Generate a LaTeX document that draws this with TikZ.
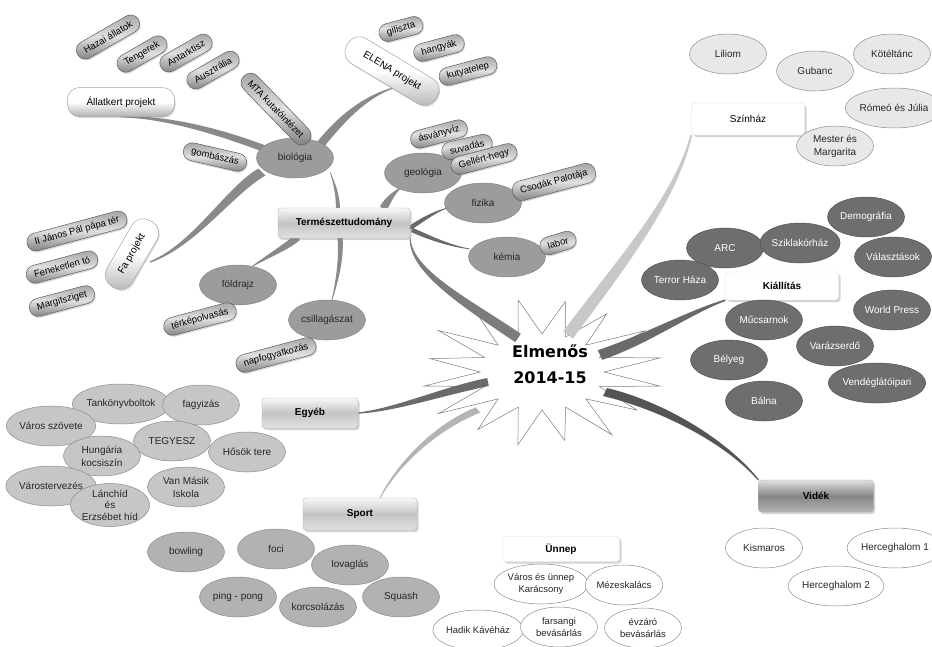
\documentclass[tikz,border=0pt]{standalone}
\usepackage{fontspec}
\setmainfont{Liberation Sans}
\newfontfamily\titlefont{DejaVu Sans}
\usetikzlibrary{shapes.geometric,shadows,calc,backgrounds}
\definecolor{lvtwoc}{HTML}{9C9C9C}
\definecolor{kiallc}{HTML}{6E6E6E}
\definecolor{egyc}{HTML}{C6C6C6}
\definecolor{sportc}{HTML}{B2B2B2}
\definecolor{szinc}{HTML}{E8E8E8}
\definecolor{edgec}{HTML}{8C8C8C}
\definecolor{ribmid}{HTML}{8A8A8A}
\definecolor{ribtt}{HTML}{7C7C7C}
\definecolor{ribdark}{HTML}{6A6A6A}
\definecolor{ribdarker}{HTML}{555555}
\definecolor{riblight}{HTML}{C8C8C8}
\definecolor{ribsport}{HTML}{B4B4B4}
\definecolor{pilltop}{HTML}{A0A0A0}
\definecolor{pillmid}{HTML}{E0E0E0}
\definecolor{pillbot}{HTML}{787878}
\definecolor{pilledge}{HTML}{5E5E5E}
\definecolor{lpillbot}{HTML}{B0B0B0}
\definecolor{boxtop}{HTML}{F8F8F8}
\definecolor{boxmid}{HTML}{C4C4C4}
\definecolor{boxbot}{HTML}{E2E2E2}
\definecolor{vtop}{HTML}{E0E0E0}
\definecolor{vmid}{HTML}{858585}
\definecolor{vbot}{HTML}{B4B4B4}
\definecolor{starline}{HTML}{7A7A7A}
\newcommand\mmribbon[6]{%
  \fill[#1] ($(#2)+(#6)$) .. controls ($(#3)+(#6)$) and ($(#4)+0.4*(#6)$) .. ($(#5)+0.15*(#6)$)
    -- ($(#5)-0.15*(#6)$) .. controls ($(#4)-0.4*(#6)$) and ($(#3)-(#6)$) .. ($(#2)-(#6)$) -- cycle;}
\begin{document}
\begin{tikzpicture}[x=1pt,y=-1pt,
  every node/.style={font=\fontsize{10}{12}\selectfont, align=center, text=black!85},
  el/.style={ellipse, minimum width=77pt, minimum height=40pt, inner sep=0pt, line width=0.5pt},
  lvtwo/.style={el, fill=lvtwoc, draw=lvtwoc!85!black},
  kel/.style={el, fill=kiallc, draw=kiallc!75!black, text=white},
  eel/.style={el, fill=egyc, draw=edgec},
  sel/.style={el, fill=sportc, draw=edgec},
  lel/.style={el, fill=szinc, draw=edgec},
  wel/.style={el, fill=white, draw=edgec},
  pill/.style={rectangle, rounded corners=9pt, minimum height=18pt, inner xsep=8pt, inner ysep=0pt,
    draw=pilledge, line width=0.5pt, top color=pilltop, bottom color=pillbot, middle color=pillmid,
    font=\fontsize{9.5}{11}\selectfont, text=black,
    drop shadow={opacity=0.3, shadow xshift=1pt, shadow yshift=-1.5pt}},
  lpill/.style={pill, rounded corners=13pt, minimum height=29pt, draw=gray!70,
    top color=white, bottom color=lpillbot, middle color=white, font=\fontsize{10}{12}\selectfont},
  mmbox/.style={rectangle, rounded corners=3pt, draw=gray!60, line width=0.4pt,
    top color=boxtop, bottom color=boxbot, middle color=boxmid, text=black,
    font=\bfseries\fontsize{10}{12}\selectfont,
    drop shadow={opacity=0.35, shadow xshift=1.5pt, shadow yshift=-2pt}},
  wbox/.style={rectangle, rounded corners=3pt, fill=white, draw=gray!25, line width=0.4pt, text=black,
    drop shadow={opacity=0.35, shadow xshift=2pt, shadow yshift=-2pt}}
]
\useasboundingbox (0,0) rectangle (932,646);

% ---- central title
\node[font=\titlefont\bfseries\fontsize{16}{26}\selectfont, text=black] (title) at (550,364) {Elmenős\\2014-15};

% ---- Természettudomány
\node[mmbox, minimum width=132pt, minimum height=30pt] (tt) at (344,223) {Természettudomány};
\node[pill, rotate=-13] (gomba) at (215,157) {gombászás};
\node[lvtwo] (bio) at (295,158) {biológia};
\node[lvtwo] (geo) at (423,173) {geológia};
\node[lvtwo] (fiz) at (483,203) {fizika};
\node[lvtwo] (kem) at (507,257) {kémia};
\node[lvtwo] (fold) at (238,285) {földrajz};
\node[lvtwo] (csill) at (327,320) {csillagászat};

\node[pill, rotate=30] (hazai) at (108,37) {Hazai állatok};
\node[pill, rotate=30] (teng) at (142,54) {Tengerek};
\node[pill, rotate=30] (ant) at (186,53) {Antarktisz};
\node[pill, rotate=30] (ausz) at (213,70) {Ausztrália};
\node[lpill, minimum width=107pt, rounded corners=12pt] (allat) at (121,102) {Állatkert projekt};
\node[pill, rotate=-46, minimum height=19pt] (mta) at (276,109) {MTA kutatóintézet};

\node[pill, rotate=15] (gil) at (401,29) {giliszta};
\node[pill, rotate=15] (hang) at (439,48) {hangyák};
\node[pill, rotate=15] (kutya) at (468,71) {kutyatelep};
\node[lpill, rotate=-31, minimum width=104pt] (elena) at (392,71) {ELENA projekt};

\node[pill, rotate=15] (asv) at (439,134) {ásványvíz};
\node[pill, rotate=13] (suv) at (467,147) {suvadás};
\node[pill, rotate=15] (gell) at (484,159) {Gellért-hegy};
\node[pill, rotate=15, minimum height=20pt] (csod) at (554,182) {Csodák Palotája};
\node[pill, rotate=17] (labor) at (558,243) {labor};

\node[pill, rotate=15] (jp) at (77,231) {II János Pál pápa tér};
\node[pill, rotate=15] (fen) at (62,267) {Feneketlen tó};
\node[pill, rotate=15] (marg) at (62,301) {Margitsziget};
\node[lpill, rotate=60, minimum width=76pt] (fa) at (132,254) {Fa projekt};
\node[pill, rotate=15] (terk) at (200,319) {térképolvasás};
\node[pill, rotate=15] (napf) at (276,355) {napfogyatkozás};

% ---- Színház
\node[wbox, minimum width=113pt, minimum height=32pt] (szin) at (748,119) {Színház};
\node[lel] (lil) at (728,54) {Liliom};
\node[lel] (gub) at (815,71) {Gubanc};
\node[lel] (kot) at (892,54) {Kötéltánc};
\node[lel] (rom) at (894,108) {Rómeó és Júlia};
\node[lel, font=\fontsize{10}{13}\selectfont] (mest) at (835,146) {Mester és\\Margarita};

% ---- Kiállítás
\node[kel] (demo) at (866,217) {Demográfia};
\node[kel] (arc) at (725,248) {ARC};
\node[kel] (szik) at (800,243) {Sziklakórház};
\node[kel] (val) at (893,257) {Választások};
\node[kel] (terror) at (680,280) {Terror Háza};
\node[wbox, minimum width=113pt, minimum height=28pt, font=\bfseries\fontsize{10}{12}\selectfont] (kiall) at (782,286) {Kiállítás};
\node[kel] (world) at (892,310) {World Press};
\node[kel] (muc) at (764,320) {Műcsarnok};
\node[kel] (var) at (835,346) {Varázserdő};
\node[kel] (bely) at (729,360) {Bélyeg};
\node[kel] (vend) at (877,383) {Vendéglátóipari};
\node[kel] (baln) at (764,401) {Bálna};

% ---- Egyéb
\node[mmbox, minimum width=96pt, minimum height=30pt] (egyeb) at (310,413) {Egyéb};
\node[eel] (tank) at (121,404) {Tankönyvboltok};
\node[eel] (fagy) at (201,405) {fagyizás};
\node[eel] (varsz) at (51,426) {Város szövete};
\node[eel] (tegy) at (172,441) {TEGYESZ};
\node[eel, font=\fontsize{10}{13}\selectfont] (hung) at (102,456) {Hungária\\kocsiszín};
\node[eel] (hos) at (247,452) {Hősök tere};
\node[eel] (vterv) at (51,486) {Várostervezés};
\node[eel, font=\fontsize{10}{13}\selectfont] (vanm) at (186,487) {Van Másik\\Iskola};
\node[eel, font=\fontsize{10}{11.5}\selectfont, minimum height=42pt] (lanc) at (110,505) {Lánchíd\\és\\Erzsébet híd};

% ---- Sport
\node[mmbox, minimum width=114pt, minimum height=32pt] (sport) at (360,514) {Sport};
\node[sel] (bowl) at (186,552) {bowling};
\node[sel] (foci) at (276,549) {foci};
\node[sel] (lov) at (350,565) {lovaglás};
\node[sel] (ping) at (238,597) {ping - pong};
\node[sel] (korcs) at (318,607) {korcsolázás};
\node[sel] (squash) at (401,597) {Squash};

% ---- Ünnep
\node[wbox, minimum width=117pt, minimum height=25pt, font=\bfseries\fontsize{10}{12}\selectfont] (unnep) at (561,549) {Ünnep};
\node[wel, font=\fontsize{9.5}{12}\selectfont] (vesu) at (541,584) {Város és ünnep\\Karácsony};
\node[wel, font=\fontsize{9.5}{12}\selectfont] (mez) at (624,585) {Mézeskalács};
\node[wel, font=\fontsize{9.5}{12}\selectfont] (hadik) at (478,630) {Hadik Kávéház};
\node[wel, font=\fontsize{9.5}{12}\selectfont] (fars) at (559,627) {farsangi\\bevásárlás};
\node[wel, font=\fontsize{9.5}{12}\selectfont] (evz) at (643,628) {évzáró\\bevásárlás};

% ---- Vidék
\node[mmbox, top color=vtop, bottom color=vbot, middle color=vmid, minimum width=115pt, minimum height=32pt] (videk) at (816,496) {Vidék};
\node[wel] (kism) at (764,548) {Kismaros};
\node[wel] (herc1) at (895,548) {Herceghalom 1};
\node[wel] (herc2) at (836,586) {Herceghalom 2};

% ---- background: star and ribbons
\begin{scope}[on background layer]
  \draw[draw=starline, fill=white, line width=0.5pt, line join=miter] (604,372)
    \foreach \k/\f in {0/1.0,1/0.95,2/1.05,3/0.97,4/1.03,5/0.96,6/1.04,7/1.0,8/0.95,9/1.04,10/0.98,11/1.02,12/1.0,13/0.97,14/1.03,15/1.0}
    { -- ({542+120*\f*cos(11.25+22.5*\k)},{372+72*\f*sin(11.25+22.5*\k)})
      -- ({542+62*cos(22.5*(\k+1))},{372+38*sin(22.5*(\k+1))}) } -- cycle;
  % main branches from the star
  \mmribbon{ribtt}{518,338}{470,305}{410,272}{tt.south east}{2.8,-4.2}
  \mmribbon{riblight}{568,335}{620,265}{675,200}{szin.south west}{4.8,3.6}
  \mmribbon{ribdark}{600,355}{645,340}{690,312}{kiall.south west}{2.2,4.8}
  \mmribbon{ribdarker}{605,392}{660,405}{725,440}{videk.north west}{-2,4}
  \mmribbon{ribdark}{488,382}{440,392}{395,410}{egyeb.east}{0.8,4}
  \mmribbon{ribsport}{478,410}{440,425}{400,460}{380,498}{2.2,2.6}
  % Természettudomány sub-branches
  \mmribbon{ribmid}{338,209}{338,195}{334,182}{330,172}{2,0}
  \mmribbon{ribmid}{268,150}{215,130}{165,117}{allat.south}{1,4}
  \mmribbon{ribmid}{320,145}{342,118}{365,97}{393,88}{3,3}
  \mmribbon{ribmid}{262,172}{230,190}{195,245}{150,262}{3.5,3.5}
  \mmribbon{ribmid}{383,209}{388,200}{393,194}{400,188}{3,2.6}
  \mmribbon{ribdark}{410,228}{425,218}{435,212}{447,208}{1,2}
  \mmribbon{ribdark}{412,230}{430,238}{450,246}{470,249}{-1,2}
  \mmribbon{ribmid}{298,237}{285,248}{268,256}{253,266}{2,3}
  \mmribbon{ribmid}{340,237}{342,260}{336,285}{332,300}{2.5,0}
\end{scope}
\end{tikzpicture}
\end{document}
